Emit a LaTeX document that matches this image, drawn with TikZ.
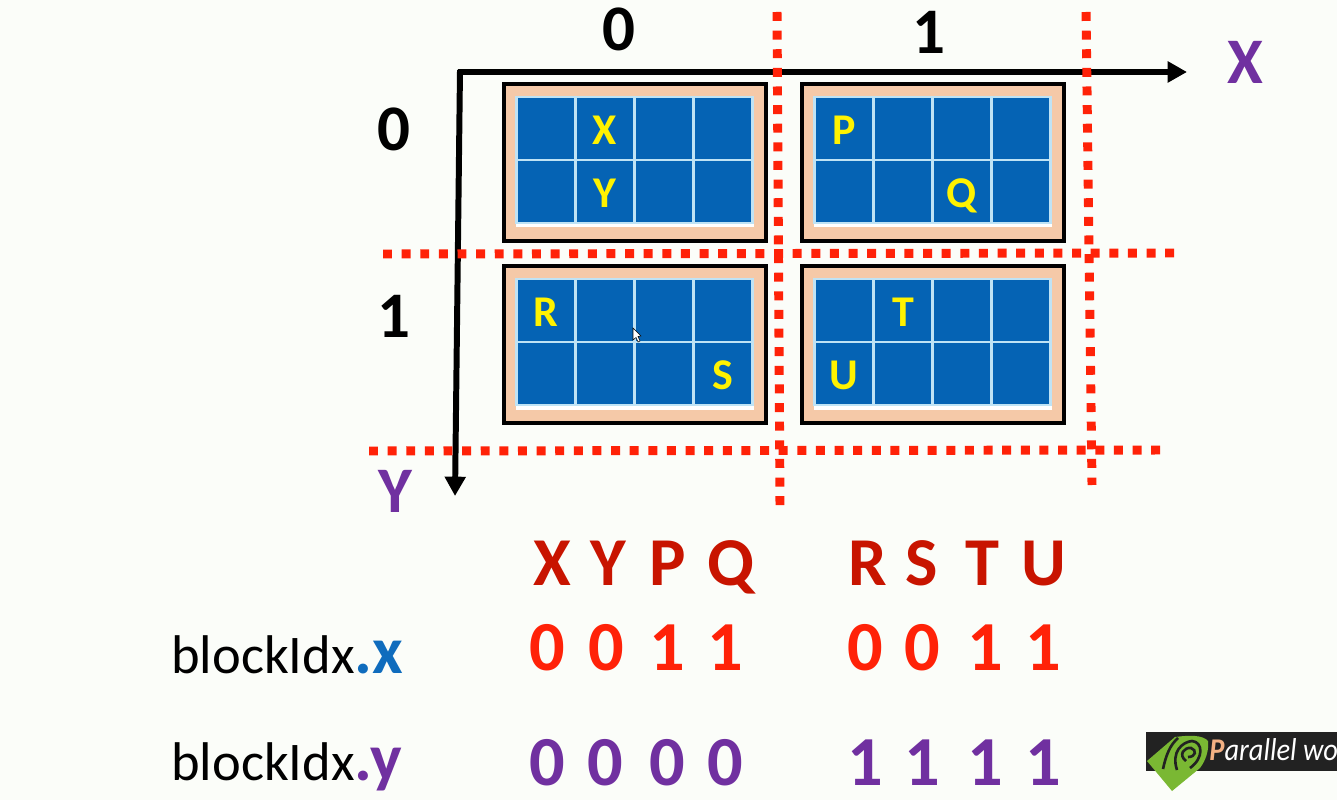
\documentclass[tikz,border=0pt]{standalone}
\usepackage{fontspec}
\setmainfont{Carlito}
\usetikzlibrary{arrows.meta, calc}
\definecolor{pagetint}{HTML}{FBFDF9}
\definecolor{cellblue}{HTML}{0563B4}
\definecolor{celledge}{HTML}{BFE3F5}
\definecolor{peach}{HTML}{F5C9A8}
\definecolor{markred}{HTML}{FF2208}
\definecolor{namered}{HTML}{C81400}
\definecolor{idxpurple}{HTML}{7030A0}
\definecolor{idxblue}{HTML}{0F6CBD}
\definecolor{logogreen}{HTML}{7AB833}
\definecolor{logodark}{HTML}{222222}
\definecolor{logop}{HTML}{F4B183}

\begin{document}
\begin{tikzpicture}[x=0.02cm,y=-0.02cm,
    panel/.style={draw=black, fill=peach, line width=2.6pt, minimum width=5.24cm, minimum height=3.14cm, inner sep=0pt},
    cell/.style={draw=celledge, fill=cellblue, line width=1.3pt, minimum width=1.18cm, minimum height=1.26cm, inner sep=0pt},
    cellmark/.style={text=yellow, text height=16.1pt, text depth=0pt, yshift=-1pt, font=\fontsize{25}{25}\selectfont\bfseries},
    axis/.style={draw=black, line width=3.4pt, -{Triangle[length=11pt,width=11.5pt]}},
    gridcut/.style={draw=markred, line width=5.1pt, dash pattern=on 5.1pt off 5.5pt},
    axisname/.style={text=idxpurple, font=\fontsize{37}{37}\selectfont\bfseries},
    axisnum/.style={text=black, font=\fontsize{37}{37}\selectfont\bfseries},
    pointname/.style={anchor=base, inner sep=0pt, text=namered, font=\fontsize{39}{39}\selectfont\bfseries},
    xval/.style={anchor=base, inner sep=0pt, text=markred, font=\fontsize{40}{40}\selectfont\bfseries},
    yval/.style={anchor=base, inner sep=0pt, text=idxpurple, font=\fontsize{40}{40}\selectfont\bfseries},
    idxname/.style={anchor=base west, text=black, inner sep=0pt, font=\fontsize{31}{31}\selectfont}
    ]
    \useasboundingbox[fill=pagetint] (0,0) rectangle (1337,800);

    % Panels with their blue cells
    \foreach \pname/\px/\py in {a/635/162.5, b/933/162.5, c/635/344.5, d/933/344.5} {
        \node[panel] (panel-\pname) at (\px,\py) {};
        \fill[white] ($(\px,\py)+(-119,-66)$) rectangle ($(\px,\py)+(119,65)$);
        \foreach \col in {0,...,3} {
            \foreach \row in {0,1} {
                \node[cell] (cell-\pname-\col-\row) at ($(\px,\py)+(-89+59*\col,-34+63*\row)$) {};
            }
        }
    }

    % Letters inside the cells
    \node[cellmark] (markX) at (cell-a-1-0) {X};
    \node[cellmark] (markY) at (cell-a-1-1) {Y};
    \node[cellmark] (markP) at (cell-b-0-0) {P};
    \node[cellmark] (markQ) at (cell-b-2-1) {Q};
    \node[cellmark] (markR) at (cell-c-0-0) {R};
    \node[cellmark] (markS) at (cell-c-3-1) {S};
    \node[cellmark] (markT) at (cell-d-1-0) {T};
    \node[cellmark] (markU) at (cell-d-0-1) {U};

    % Mouse pointer
    \draw[black, fill=white, line width=0.3pt] (633,328) -- (633,340) -- (636,337.5) -- (638,342) -- (640,341) -- (638,336.5) -- (641,336) -- cycle;

    % Axes
    \coordinate (origin) at (458,72);
    \coordinate (x_end) at (1187,72);
    \coordinate (y_start) at (460,70);
    \coordinate (y_end) at (455,496);
    \draw[axis] (origin) -- (x_end);
    \draw[axis] (y_start) -- (y_end);

    % Dotted grid lines
    \coordinate (h1_in) at (383,254);
    \coordinate (h1_out) at (1177,253);
    \coordinate (h2_in) at (369,451);
    \coordinate (h2_out) at (1168,450);
    \coordinate (v1_in) at (777,12);
    \coordinate (v1_out) at (780,507);
    \coordinate (v2_in) at (1086,12);
    \coordinate (v2_out) at (1092,485);
    \draw[gridcut] (h1_in) -- (h1_out);
    \draw[gridcut] (h2_in) -- (h2_out);
    \draw[gridcut] (v1_in) -- (v1_out);
    \draw[gridcut] (v2_in) -- (v2_out);

    % Axis labels
    \node[axisname] (xname) at (1245,62) {X};
    \node[axisname] (yname) at (395,491) {Y};
    \node[axisnum] (xnum0) at (619,29) {0};
    \node[axisnum] (xnum1) at (929,32) {1};
    \node[axisnum] (ynum0) at (394,129) {0};
    \node[axisnum] (ynum1) at (394,316) {1};

    % Table below the grid
    \foreach \txt/\px in {X/552, Y/608, P/668, Q/731, R/868, S/922, T/982, U/1044} {
        \node[pointname] (name\txt) at (\px,585) {\txt};
    }
    \foreach \txt/\px/\tag in {0/547/a, 0/606/b, 1/667/c, 1/725/d, 0/865/e, 0/922/f, 1/985/g, 1/1043/h} {
        \node[xval] (xval\tag) at (\px,670) {\txt};
    }
    \foreach \txt/\px/\tag in {0/547/a, 0/605/b, 0/667/c, 0/725/d, 1/865/e, 1/922/f, 1/985/g, 1/1043/h} {
        \node[yval] (yval\tag) at (\px,785) {\txt};
    }
    \node[idxname] (idxx) at (171,673) {blockIdx\textcolor{idxblue}{\fontsize{38}{38}\selectfont\textbf{.x}}};
    \node[idxname] (idxy) at (171,780) {blockIdx\textcolor{idxpurple}{\fontsize{38}{38}\selectfont\textbf{.y}}};

    % Logo
    \fill[logodark] (1146,732) rectangle (1337,771);
    \fill[logogreen] (1147,761) -- (1175,737) .. controls (1190,735) and (1203,735) .. (1208,741) .. controls (1209,750) and (1206,760) .. (1200,768) -- (1172,791) -- cycle;
    \draw[logodark, line width=1.5pt] (1163,769) .. controls (1166,755) and (1170,745) .. (1178,738);
    \draw[logodark, line width=1.5pt] (1177,770) .. controls (1171,752) and (1182,742) .. (1192,741) .. controls (1203,742) and (1204,758) .. (1190,768);
    \draw[logodark, line width=1.5pt] (1186,761) .. controls (1178,755) and (1184,747) .. (1191,748) .. controls (1197,750) and (1196,757) .. (1188,757);
    \node[anchor=base west, inner sep=0pt, text=white, font=\fontsize{18}{18}\selectfont\itshape] (logotext) at (1209,760) {\scalebox{0.9}[1]{\textcolor{logop}{\textbf{P}}arallel wo}};
\end{tikzpicture}
\end{document}
